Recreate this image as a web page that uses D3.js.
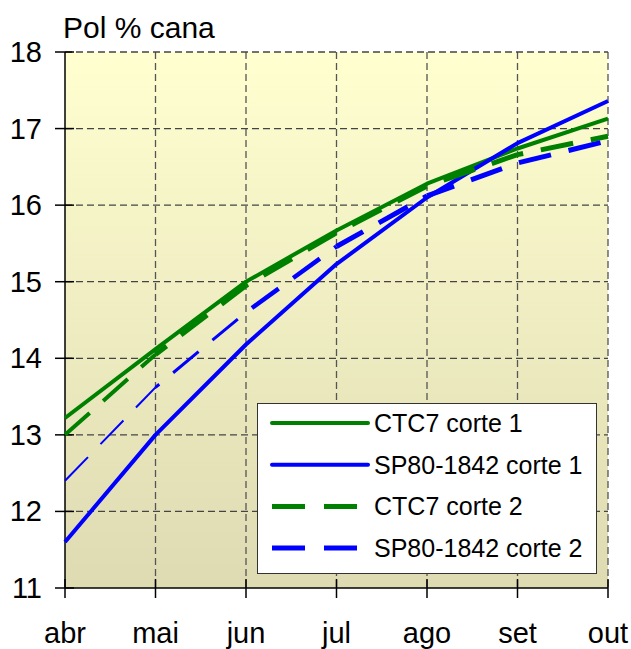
<!DOCTYPE html>
<html>
<head>
<meta charset="utf-8">
<script src="https://cdn.jsdelivr.net/npm/d3@7"></script>
<style>
  body { margin: 0; background: #fff; }
  text { font-family: "Liberation Sans", Arial, sans-serif; fill: #000; }
</style>
</head>
<body>
<div id="chart"></div>
<script>
// Datos
const meses = ["abr", "mai", "jun", "jul", "ago", "set", "out"];
const ctc7Corte1 = [13.22, 14.12, 15.0, 15.67, 16.28, 16.74, 17.13];
const sp80Corte1 = [11.6, 13.0, 14.18, 15.23, 16.1, 16.81, 17.36];
const ctc7Corte2 = [13.0, 14.05, 14.95, 15.64, 16.25, 16.66, 16.9];
const sp80Corte2 = [12.4, 13.62, 14.6, 15.46, 16.12, 16.55, 16.84];
const yTicks = [11, 12, 13, 14, 15, 16, 17, 18];
const nombres = ["CTC7 corte 1", "SP80-1842 corte 1", "CTC7 corte 2", "SP80-1842 corte 2"];

const width = 631, height = 649;
const mIzq = 65, mDer = 608, mSup = 52, mInf = 588;

const svg = d3.select("#chart").append("svg")
    .attr("width", width)
    .attr("height", height);

// Fondo degradado del área del gráfico
const grad = svg.append("defs").append("linearGradient")
    .attr("id", "fondo").attr("x1", 0).attr("y1", 0).attr("x2", 0).attr("y2", 1);
grad.append("stop").attr("offset", "0%").attr("stop-color", "#FFFFD0");
grad.append("stop").attr("offset", "100%").attr("stop-color", "#DEDAB2");

svg.append("rect")
    .attr("x", mIzq).attr("y", mSup)
    .attr("width", mDer - mIzq).attr("height", mInf - mSup)
    .attr("fill", "url(#fondo)");

const x = d3.scalePoint().domain(meses).range([mIzq, mDer]);
const y = d3.scaleLinear().domain([11, 18]).range([mInf, mSup]);

// Rejilla
svg.append("g").selectAll("line")
    .data(meses.slice(1))
    .enter().append("line")
    .attr("x1", d => x(d)).attr("x2", d => x(d))
    .attr("y1", mSup).attr("y2", mInf)
    .attr("stroke", "#555").attr("stroke-width", 1.3)
    .attr("stroke-dasharray", "7,4");

svg.append("g").selectAll("line")
    .data(yTicks.slice(1))
    .enter().append("line")
    .attr("x1", mIzq).attr("x2", mDer)
    .attr("y1", d => y(d)).attr("y2", d => y(d))
    .attr("stroke", "#444").attr("stroke-width", 1.3)
    .attr("stroke-dasharray", "7,4");

// Ejes
svg.append("line")
    .attr("x1", mIzq).attr("x2", mIzq).attr("y1", mSup).attr("y2", mInf)
    .attr("stroke", "#000").attr("stroke-width", 1.5);
svg.append("line")
    .attr("x1", mIzq).attr("x2", mDer).attr("y1", mInf).attr("y2", mInf)
    .attr("stroke", "#000").attr("stroke-width", 1.5);

svg.append("g").selectAll("line")
    .data(yTicks)
    .enter().append("line")
    .attr("x1", mIzq - 10).attr("x2", mIzq + 9)
    .attr("y1", d => y(d)).attr("y2", d => y(d))
    .attr("stroke", "#000").attr("stroke-width", 1.5);

svg.append("g").selectAll("line")
    .data(meses)
    .enter().append("line")
    .attr("x1", d => x(d)).attr("x2", d => x(d))
    .attr("y1", mInf - 9).attr("y2", mInf + 10)
    .attr("stroke", "#000").attr("stroke-width", 1.5);

svg.append("g").selectAll("text")
    .data(yTicks)
    .enter().append("text")
    .attr("x", mIzq - 23)
    .attr("y", d => y(d) + 10)
    .attr("text-anchor", "end")
    .style("font-size", "29px")
    .text(d => d);

svg.append("g").selectAll("text")
    .data(meses)
    .enter().append("text")
    .attr("x", d => x(d))
    .attr("y", 643)
    .attr("text-anchor", "middle")
    .style("font-size", "29px")
    .text(d => d);

svg.append("text")
    .attr("x", 63).attr("y", 38)
    .style("font-size", "30px")
    .text("Pol % cana");

// Series
const series = [
    { valores: ctc7Corte1, color: "#008000", dash: null, anchos: [4, 4, 4, 4, 4, 4] },
    { valores: sp80Corte1, color: "#0000FF", dash: null, anchos: [4, 4, 4, 4, 4, 4] },
    { valores: ctc7Corte2, color: "#008000", dash: [33, 18], anchos: [4, 5, 5, 5, 5, 5] },
    { valores: sp80Corte2, color: "#0000FF", dash: [33, 18], anchos: [2, 3, 4.5, 5, 5, 5] }
];

const linea = d3.line().x(d => x(d.m)).y(d => y(d.v));

series.forEach(s => {
    const pts = meses.map((m, i) => ({ m: m, v: s.valores[i] }));
    if (!s.dash) {
        svg.append("path")
            .attr("d", linea(pts))
            .attr("fill", "none")
            .attr("stroke", s.color)
            .attr("stroke-width", s.anchos[0])
            .attr("stroke-linejoin", "round");
        return;
    }
    // Tramos con grosor variable, manteniendo la continuidad del trazo
    let acumulado = 0;
    for (let i = 0; i < pts.length - 1; i++) {
        const a = pts[i], b = pts[i + 1];
        const largo = Math.hypot(x(b.m) - x(a.m), y(b.v) - y(a.v));
        svg.append("path")
            .attr("d", linea([a, b]))
            .attr("fill", "none")
            .attr("stroke", s.color)
            .attr("stroke-width", s.anchos[i])
            .attr("stroke-dasharray", s.dash.join(","))
            .attr("stroke-dashoffset", acumulado);
        acumulado += largo;
    }
});

// Leyenda
const leyenda = svg.append("g");
leyenda.append("rect")
    .attr("x", 257.5).attr("y", 403.5)
    .attr("width", 339).attr("height", 170)
    .attr("fill", "#fff")
    .attr("stroke", "#333").attr("stroke-width", 1);

series.forEach((s, i) => {
    const fy = 423 + i * 41.7;
    leyenda.append("line")
        .attr("x1", 272).attr("x2", 368)
        .attr("y1", fy).attr("y2", fy)
        .attr("stroke", s.color)
        .attr("stroke-width", s.dash ? 5 : 4)
        .attr("stroke-dasharray", s.dash ? "33,19" : null)
        .attr("stroke-linecap", s.dash ? "butt" : "round");
    leyenda.append("text")
        .attr("x", 374).attr("y", fy + 9)
        .style("font-size", "25px")
        .text(nombres[i]);
});
</script>
</body>
</html>
